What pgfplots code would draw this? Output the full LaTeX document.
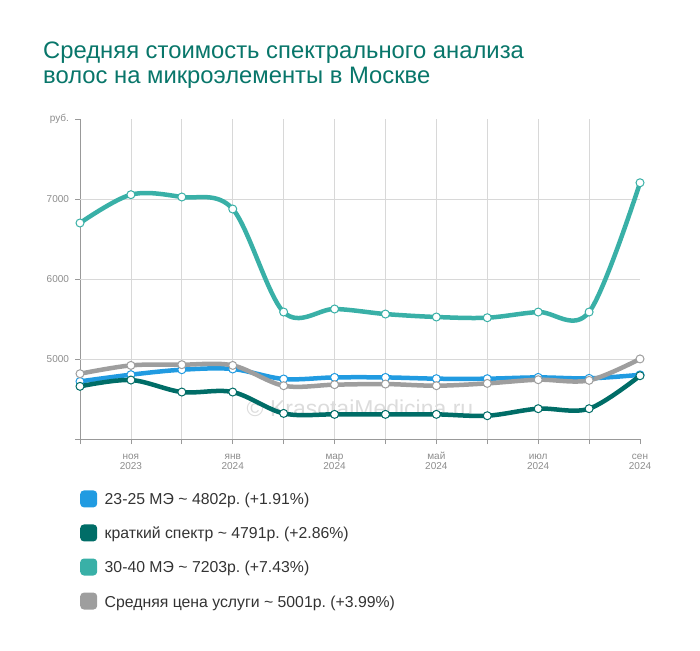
\documentclass[border=0pt]{standalone}
\usepackage{fontspec}
\setmainfont{Liberation Sans}
\usepackage{pgfplots}
\pgfplotsset{compat=1.18}
\frenchspacing
\definecolor{cBlue}{RGB}{33,155,225}
\definecolor{cDark}{RGB}{0,109,103}
\definecolor{cTeal}{RGB}{57,176,167}
\definecolor{cGray}{RGB}{158,158,158}
\definecolor{cGrid}{RGB}{216,216,216}
\definecolor{cAxis}{RGB}{153,153,153}
\definecolor{cTick}{RGB}{140,140,140}
\definecolor{cTitle}{RGB}{8,118,106}
\definecolor{cLeg}{RGB}{51,51,51}
\definecolor{cWater}{RGB}{220,220,220}
\newcommand{\fl}{\rule{0pt}{8pt}}
\begin{document}
\begin{tikzpicture}
\useasboundingbox (0pt,0pt) rectangle (700pt,650pt);
\node[anchor=base west, text=cTitle, font=\fontsize{23.8}{25}\selectfont, inner sep=0pt] at (43pt,591pt) {Средняя стоимость спектрального анализа};
\node[anchor=base west, text=cTitle, font=\fontsize{23.8}{25}\selectfont, inner sep=0pt] at (43pt,566pt) {волос на микроэлементы в Москве};
\begin{axis}[
  at={(80pt,211pt)}, anchor=south west,
  scale only axis, width=560pt, height=320pt,
  xmin=0, xmax=11, ymin=4000, ymax=8000,
  clip=false,
  axis lines=left,
  axis line style={-, draw=cAxis, line width=0.8pt},
  tick style={draw=cAxis, line width=0.8pt},
  tick align=outside, major tick length=5pt,
  xtick={0,...,11},
  xticklabels={,{\fl ноя\\2023},,{\fl янв\\2024},,{\fl мар\\2024},,{\fl май\\2024},,{\fl июл\\2024},,{\fl сен\\2024}},
  ytick={4000,5000,6000,7000,8000},
  yticklabels={,5000,6000,7000,руб.},
  extra x ticks={1,...,10}, extra x tick labels={},
  extra x tick style={xmajorgrids=true, major tick length=0pt},
  extra y ticks={5000,6000,7000}, extra y tick labels={},
  extra y tick style={ymajorgrids=true, major tick length=0pt},
  major grid style={draw=cGrid, line width=0.8pt},
  /pgf/number format/assume math mode=true,
  xticklabel style={align=center, text=cTick, font=\fontsize{10}{9.8}\selectfont, inner sep=0pt, yshift=-7pt},
  yticklabel style={text=cTick, font=\fontsize{10}{10}\selectfont, xshift=-2.5pt},
  legend style={at={(axis description cs:0,-0.16)}, anchor=north west, draw=none, fill=none,
    inner sep=0pt, font=\fontsize{15.8}{15.8}\selectfont, text=cLeg, row sep=16.6pt,
    nodes={inner sep=0pt, text height=11pt, text depth=3pt}},
  legend cell align=left,
  every axis plot/.append style={smooth, tension=0.55, line width=4.5pt,
    mark=*, mark size=4pt, mark options={fill=white, line width=1pt}},
]
\node[text=cWater, font=\fontsize{23}{23}\selectfont] at (axis cs:5.5,4390) {© KrasotaiMedicina.ru};
\addplot[color=cBlue, legend image code/.code={\fill[cBlue, rounded corners=2pt] (0pt,-4.3pt) rectangle (12.5pt,8.2pt); \path (20pt,0pt);}] coordinates {
(0,4720) (1,4804) (2,4866) (3,4875) (4,4750) (5,4770) (6,4770) (7,4754) (8,4754) (9,4770) (10,4758) (11,4802)};
\addlegendentry{23-25 МЭ \textasciitilde{} 4802р. (+1.91\%)}
\addplot[color=cDark, legend image code/.code={\fill[cDark, rounded corners=2pt] (0pt,-4.3pt) rectangle (12.5pt,8.2pt); \path (20pt,0pt);}] coordinates {
(0,4658) (1,4737) (2,4587) (3,4587) (4,4320) (5,4308) (6,4308) (7,4308) (8,4291) (9,4379) (10,4379) (11,4791)};
\addlegendentry{краткий спектр \textasciitilde{} 4791р. (+2.86\%)}
\addplot[color=cTeal, legend image code/.code={\fill[cTeal, rounded corners=2pt] (0pt,-4.3pt) rectangle (12.5pt,8.2pt); \path (20pt,0pt);}] coordinates {
(0,6700) (1,7054) (2,7025) (3,6875) (4,5587) (5,5625) (6,5562) (7,5525) (8,5516) (9,5587) (10,5587) (11,7203)};
\addlegendentry{30-40 МЭ \textasciitilde{} 7203р. (+7.43\%)}
\addplot[color=cGray, legend image code/.code={\fill[cGray, rounded corners=2pt] (0pt,-4.3pt) rectangle (12.5pt,8.2pt); \path (20pt,0pt);}] coordinates {
(0,4816) (1,4920) (2,4929) (3,4920) (4,4666) (5,4679) (6,4687) (7,4666) (8,4695) (9,4741) (10,4733) (11,5001)};
\addlegendentry{Средняя цена услуги \textasciitilde{} 5001р. (+3.99\%)}
\end{axis}
\end{tikzpicture}
\end{document}
